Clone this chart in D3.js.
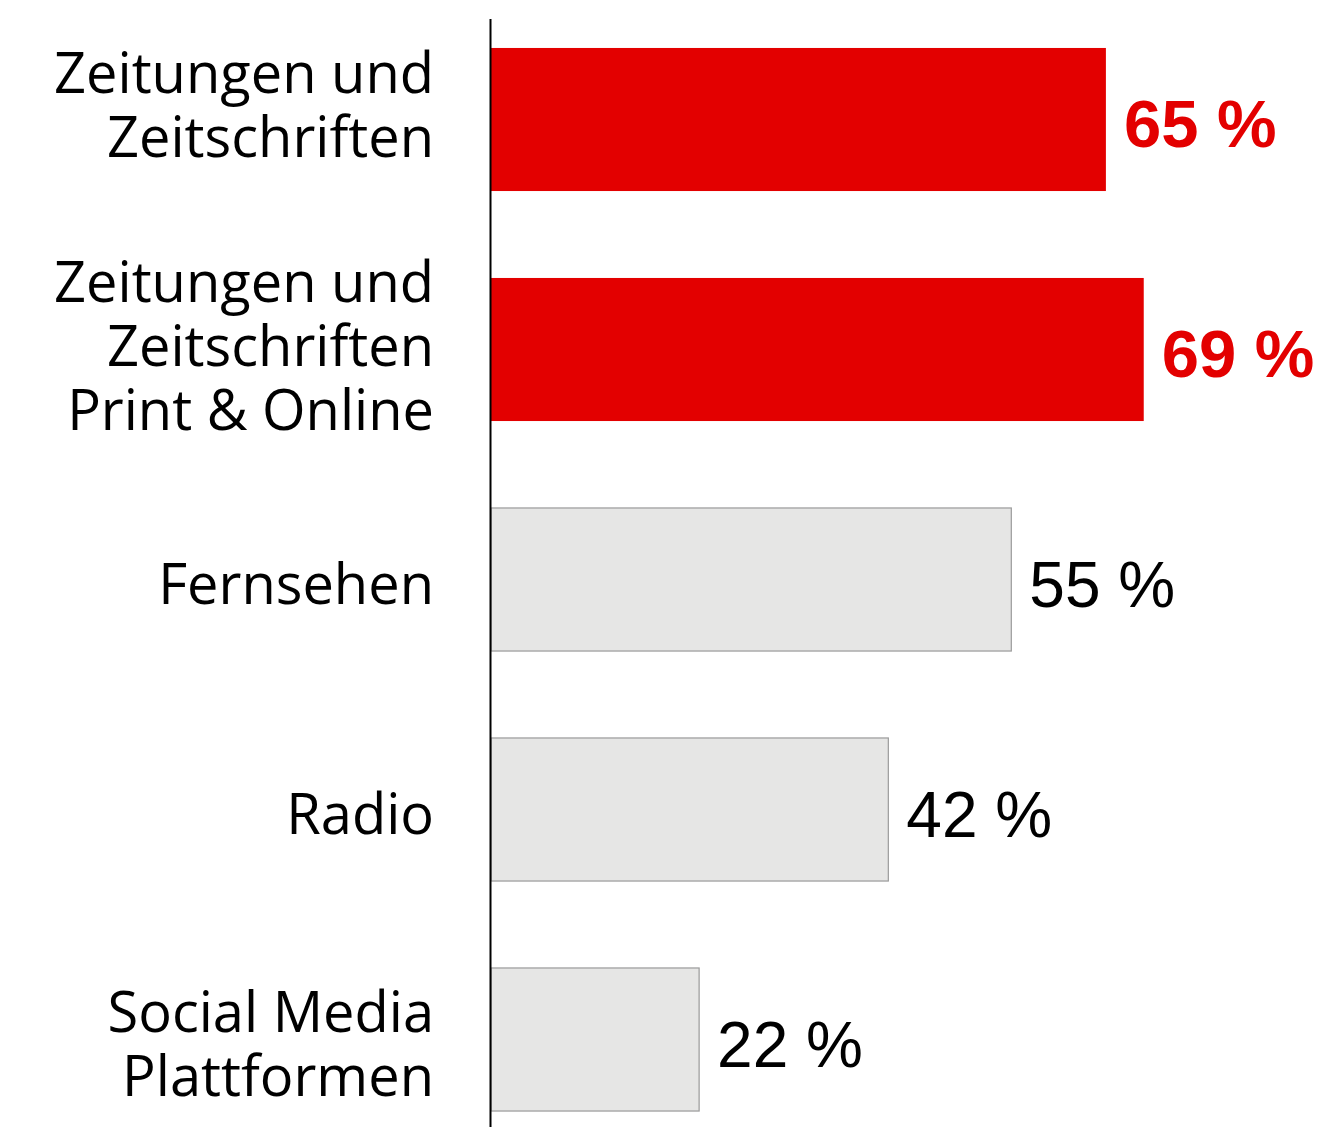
<!DOCTYPE html>
<html>
<head>
<meta charset="utf-8">
<script src="https://cdn.jsdelivr.net/npm/d3@7"></script>
<style>
  body { margin: 0; background: #fff; }
  .cat { font-family: "Open Sans", sans-serif; font-size: 56px; fill: #000; }
  .val { font-family: "Liberation Sans", Arial, sans-serif; }
</style>
</head>
<body>
<div id="chart"></div>
<script>
const width = 1323
const height = 1127

// Data
const categories = [
    ["Zeitungen und", "Zeitschriften"],
    ["Zeitungen und", "Zeitschriften", "Print & Online"],
    ["Fernsehen"],
    ["Radio"],
    ["Social Media", "Plattformen"]
]
const values = [65, 69, 55, 42, 22]
const highlighted = [true, true, false, false, false]

const red = "#e30000"
const grey = "#e6e6e5"

const svg = d3.select("div#chart").append("svg").attr("width", width).attr("height", height)

const x = d3.scaleLinear().domain([0, 100]).range([491, 1437])
const y = d3.scaleBand().domain(d3.range(values.length)).range([4.5, 1154.5])
    .paddingInner(0.378).paddingOuter(0.189)

const rows = values.map((v, i) => ({v, i, lines: categories[i], hi: highlighted[i]}))

// Bars
svg.append("g").selectAll("rect")
    .data(rows)
    .enter().append("rect")
    .attr("x", x(0))
    .attr("y", d => y(d.i))
    .attr("width", d => x(d.v) - x(0))
    .attr("height", y.bandwidth())
    .attr("fill", d => d.hi ? red : grey)
    .attr("stroke", d => d.hi ? "none" : "#9a9a9a")
    .attr("stroke-width", 1.2)

// Vertical axis line
svg.append("line")
    .attr("x1", 490.5).attr("x2", 490.5)
    .attr("y1", 19).attr("y2", height)
    .attr("stroke", "#000").attr("stroke-width", 2)

// Value labels
svg.append("g").selectAll("text")
    .data(rows)
    .enter().append("text")
    .attr("class", "val")
    .attr("x", d => x(d.v) + 18)
    .attr("y", d => y(d.i) + y.bandwidth() / 2 + 27)
    .attr("fill", d => d.hi ? red : "#000")
    .attr("font-weight", d => d.hi ? "bold" : "normal")
    .attr("font-size", d => d.hi ? 67 : 64)
    .text(d => d.v + " %")

// Category labels (multi-line, right aligned)
const lineH = 64
const nudges = [-15, -4, 4, 4, 4]
const catGroups = svg.append("g").selectAll("text")
    .data(rows)
    .enter().append("text")
    .attr("class", "cat")
    .attr("text-anchor", "end")

catGroups.selectAll("tspan")
    .data(d => d.lines.map((t, k) => ({t, k, d})))
    .enter().append("tspan")
    .attr("x", 434)
    .attr("y", o => {
        const c = y(o.d.i) + y.bandwidth() / 2
        return c - (o.d.lines.length - 1) / 2 * lineH + o.k * lineH + 20.5 + nudges[o.d.i]
    })
    .text(o => o.t)
</script>
</body>
</html>
